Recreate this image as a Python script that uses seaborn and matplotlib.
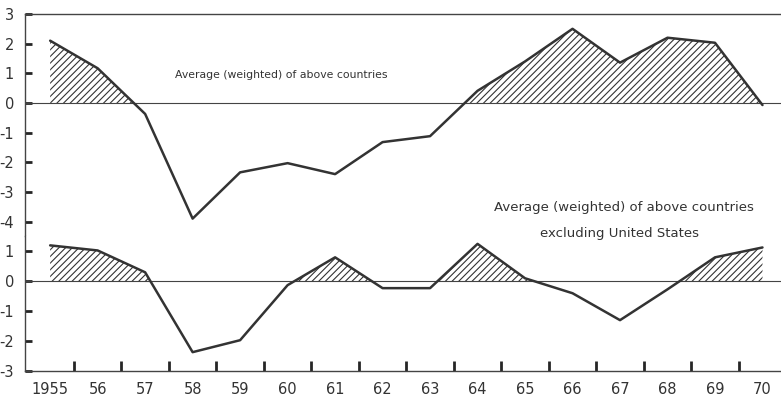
import numpy as np
import pandas as pd
import matplotlib.pyplot as plt
import seaborn as sns

sns.set_style('white')
plt.rcParams['font.family'] = ['DejaVu Sans']
plt.rcParams['hatch.linewidth'] = 0.8

# 数据
years = [1955, 1956, 1957, 1958, 1959, 1960, 1961, 1962,
         1963, 1964, 1965, 1966, 1967, 1968, 1969, 1970]
all_countries = [2.1, 1.17, -0.37, -3.9, -2.34, -2.03, -2.4, -1.32,
                 -1.12, 0.41, 1.4, 2.5, 1.36, 2.2, 2.03, -0.07]
excl_us = [1.2, 1.03, 0.3, -2.37, -1.97, -0.13, 0.8, -0.23,
           -0.23, 1.25, 0.1, -0.4, -1.3, -0.27, 0.8, 1.13]
year_labels = ['1955', '56', '57', '58', '59', '60', '61', '62',
               '63', '64', '65', '66', '67', '68', '69', '70']
top_yticks = [3, 2, 1, 0, -1, -2, -3, -4]
bottom_yticks = [1, 0, -1, -2, -3]

df = pd.DataFrame({'year': years, 'all': all_countries, 'excl': excl_us})

fig = plt.figure(figsize=(7.81, 4), dpi=100)
ax1 = fig.add_axes([0.032, 0.409, 0.968, 0.556])
ax2 = fig.add_axes([0.032, 0.0725, 0.968, 0.3365], sharex=ax1)

line_col = '#333333'
txt_col = '#333333'
for ax, col, ylim, yt in [(ax1, 'all', (-4.5, 3), top_yticks),
                           (ax2, 'excl', (-3, 1.5), bottom_yticks)]:
    y = df[col].values
    x = df['year'].values
    ax.axhline(0, color='#444444', lw=0.8, zorder=1)
    ax.fill_between(x, y, 0, where=y > 0, interpolate=True,
                    facecolor='none', edgecolor='#333333', hatch='/////', linewidth=0)
    sns.lineplot(data=df, x='year', y=col, ax=ax, color=line_col, lw=1.8, zorder=3)
    ax.set_ylim(*ylim)
    ax.set_yticks(yt)
    ax.set_yticklabels([str(v) if v >= 0 else '-' + str(-v) for v in yt],
                       fontsize=10.5, color=txt_col)
    ax.tick_params(axis='y', direction='in', length=5, width=2, pad=8, left=True)
    ax.set_xlabel('')
    ax.set_ylabel('')
    ax.spines['right'].set_visible(False)
    for s in ['left', 'top', 'bottom']:
        ax.spines[s].set_linewidth(1.0)
        ax.spines[s].set_color('#444444')

ax1.spines['bottom'].set_visible(False)
ax2.spines['top'].set_visible(False)
ax1.set_xlim(1954.47, 1970.39)
ax2.set_xticks(years)
ax2.set_xticklabels(year_labels, fontsize=10.5, color=txt_col)
ax2.set_xticks([yr + 0.5 for yr in years[:-1]], minor=True)
ax2.tick_params(axis='x', which='major', length=0, pad=8, bottom=True)
ax2.tick_params(axis='x', which='minor', direction='in', length=7, width=2, bottom=True)
ax1.tick_params(axis='x', which='both', bottom=False, labelbottom=False)

ax1.text(1957.63, 0.95, 'Average (weighted) of above countries', fontsize=7.8,
         ha='left', va='center', color=txt_col)
ax2.text(1964.35, 2.45, 'Average (weighted) of above countries', fontsize=9.5,
         ha='left', va='center', color=txt_col, clip_on=False)
ax2.text(1965.32, 1.6, 'excluding United States', fontsize=9.5,
         ha='left', va='center', color=txt_col, clip_on=False)

fig.savefig('out.png', dpi=100)
